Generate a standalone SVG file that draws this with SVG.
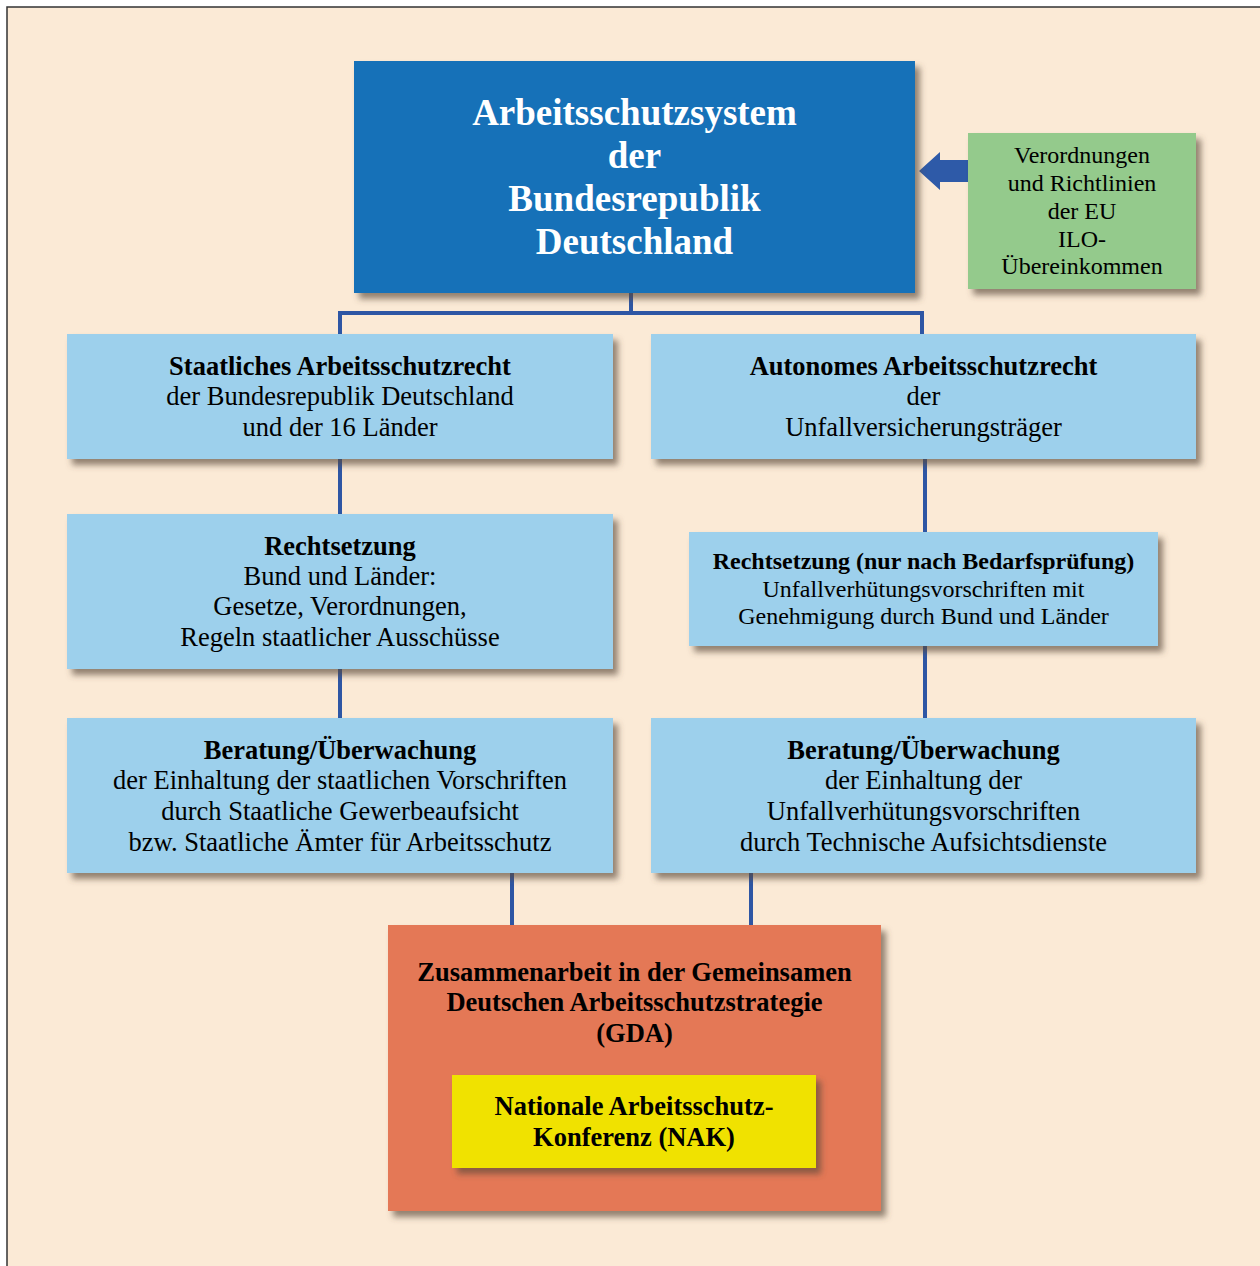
<svg xmlns="http://www.w3.org/2000/svg" width="1260" height="1266" viewBox="0 0 1260 1266">
<defs>
<filter id="sh" x="-10%" y="-10%" width="130%" height="140%">
<feDropShadow dx="5" dy="6" stdDeviation="3" flood-color="#5a4a3a" flood-opacity="0.65"/>
</filter>
<style>
text{font-family:"Liberation Serif","Times New Roman",serif;text-anchor:middle;fill:#000}
.t{font-size:26.5px}
.s{font-size:24px}
.b{font-weight:bold}
.title{font-size:37px;font-weight:bold;fill:#fff}
.lb{fill:#9DD0EC}
.con{stroke:#2E56A4;stroke-width:4;fill:none}
</style>
</defs>
<rect x="0" y="0" width="1260" height="1266" fill="#fff"/>
<rect x="7" y="7" width="1262" height="1270" fill="#FBEAD6" stroke="#333" stroke-width="1.5"/>

<g id="connectors">
<path class="con" d="M631,293 V313 M340,313 H922 M340,311 V334 M922,311 V334"/>
<path class="con" d="M340,459 V514 M340,669 V718"/>
<path class="con" d="M925,459 V532 M925,646 V718"/>
<path class="con" d="M512,873 V925 M751,873 V925"/>
<polygon points="919,171 940,152 940,160 968,160 968,182 940,182 940,190" fill="#2E5AA8"/>
</g>

<g id="title">
<rect x="354" y="61" width="561" height="232" fill="#1371B8" filter="url(#sh)"/>
<text class="title" x="634.5" y="125">Arbeitsschutzsystem</text>
<text class="title" x="634.5" y="168">der</text>
<text class="title" x="634.5" y="211">Bundesrepublik</text>
<text class="title" x="634.5" y="254">Deutschland</text>
</g>

<g id="eu">
<rect x="968" y="133" width="228" height="156" fill="#94CA8C" filter="url(#sh)"/>
<text class="s" x="1082" y="163">Verordnungen</text>
<text class="s" x="1082" y="191">und Richtlinien</text>
<text class="s" x="1082" y="219">der EU</text>
<text class="s" x="1082" y="247">ILO-</text>
<text class="s" x="1082" y="274">Übereinkommen</text>
</g>

<g id="staatlich">
<rect class="lb" x="67" y="334" width="546" height="125" filter="url(#sh)"/>
<text class="t b" x="340" y="375">Staatliches Arbeitsschutzrecht</text>
<text class="t" x="340" y="405">der Bundesrepublik Deutschland</text>
<text class="t" x="340" y="436">und der 16 Länder</text>
</g>

<g id="autonom">
<rect class="lb" x="651" y="334" width="545" height="125" filter="url(#sh)"/>
<text class="t b" x="923.5" y="375">Autonomes Arbeitsschutzrecht</text>
<text class="t" x="923.5" y="405">der</text>
<text class="t" x="923.5" y="436">Unfallversicherungsträger</text>
</g>

<g id="rechtsetzung-staat">
<rect class="lb" x="67" y="514" width="546" height="155" filter="url(#sh)"/>
<text class="t b" x="340" y="555">Rechtsetzung</text>
<text class="t" x="340" y="585">Bund und Länder:</text>
<text class="t" x="340" y="615">Gesetze, Verordnungen,</text>
<text class="t" x="340" y="646">Regeln staatlicher Ausschüsse</text>
</g>

<g id="rechtsetzung-uv">
<rect class="lb" x="689" y="532" width="469" height="114" filter="url(#sh)"/>
<text class="s b" x="923.5" y="569">Rechtsetzung (nur nach Bedarfsprüfung)</text>
<text class="s" x="923.5" y="597">Unfallverhütungsvorschriften mit</text>
<text class="s" x="923.5" y="624">Genehmigung durch Bund und Länder</text>
</g>

<g id="beratung-staat">
<rect class="lb" x="67" y="718" width="546" height="155" filter="url(#sh)"/>
<text class="t b" x="340" y="759">Beratung/Überwachung</text>
<text class="t" x="340" y="789">der Einhaltung der staatlichen Vorschriften</text>
<text class="t" x="340" y="820">durch Staatliche Gewerbeaufsicht</text>
<text class="t" x="340" y="851">bzw. Staatliche Ämter für Arbeitsschutz</text>
</g>

<g id="beratung-uv">
<rect class="lb" x="651" y="718" width="545" height="155" filter="url(#sh)"/>
<text class="t b" x="923.5" y="759">Beratung/Überwachung</text>
<text class="t" x="923.5" y="789">der Einhaltung der</text>
<text class="t" x="923.5" y="820">Unfallverhütungsvorschriften</text>
<text class="t" x="923.5" y="851">durch Technische Aufsichtsdienste</text>
</g>

<g id="gda">
<rect x="388" y="925" width="493" height="286" fill="#E47856" filter="url(#sh)"/>
<text class="t b" x="634.5" y="981">Zusammenarbeit in der Gemeinsamen</text>
<text class="t b" x="634.5" y="1011">Deutschen Arbeitsschutzstrategie</text>
<text class="t b" x="634.5" y="1042">(GDA)</text>
</g>

<g id="nak">
<rect x="452" y="1075" width="364" height="93" fill="#F0E200" filter="url(#sh)"/>
<text class="t b" x="634" y="1115">Nationale Arbeitsschutz-</text>
<text class="t b" x="634" y="1146">Konferenz (NAK)</text>
</g>
</svg>
